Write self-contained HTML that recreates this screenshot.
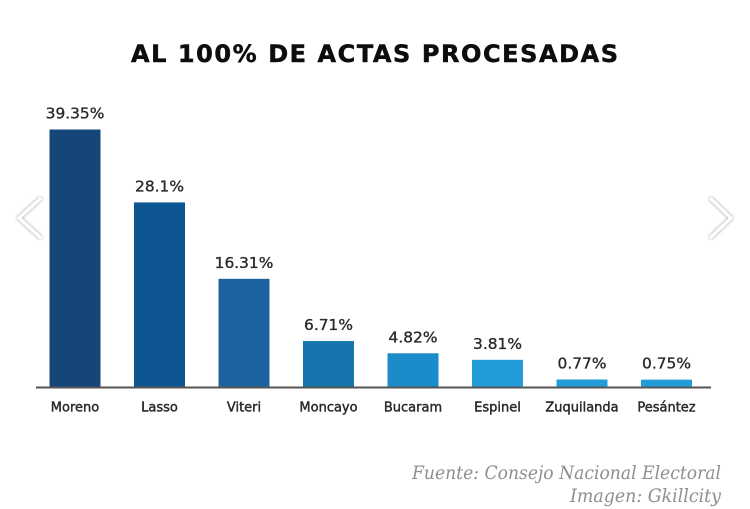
<!DOCTYPE html>
<html lang="es">
<head>
<meta charset="utf-8">
<title>Al 100% de actas procesadas</title>
<style>
html,body{margin:0;padding:0;background:#fff;width:750px;height:509px;overflow:hidden}
svg{display:block}
.title{font:bold 24px "DejaVu Sans",sans-serif;fill:#0f0f10;stroke:#0f0f10;stroke-width:.5}
.value{font:15.4px "DejaVu Sans",sans-serif;fill:#2a2a2c;text-anchor:middle;stroke:#2a2a2c;stroke-width:.35}
.cat{font:13px "DejaVu Sans",sans-serif;fill:#2b2b2d;text-anchor:middle;stroke:#2b2b2d;stroke-width:.45}
.note{font:italic 19px "DejaVu Serif","Liberation Serif",serif;fill:#8c8f93;text-anchor:end}
</style>
</head>
<body>
<svg id="chart" xmlns="http://www.w3.org/2000/svg" width="750" height="509" viewBox="0 0 750 509">
  <defs>
    <filter id="soft" x="-5%" y="-5%" width="110%" height="110%"><feGaussianBlur stdDeviation="0.35"/></filter>
    <filter id="shadow" x="-40%" y="-40%" width="180%" height="180%"><feDropShadow dx="0" dy="0" stdDeviation="1.6" flood-color="#000" flood-opacity="0.45"/></filter>
  </defs>
  <rect width="750" height="509" fill="#fff"/>
  <g id="plot" filter="url(#soft)">
    <text class="title" x="131" y="62" textLength="487" lengthAdjust="spacing">AL 100% DE ACTAS PROCESADAS</text>
    <g id="bars"></g>
    <g id="values"></g>
    <g id="cats"></g>
    <line x1="36" y1="387.5" x2="711" y2="387.5" stroke="#555557" stroke-width="2"/>
    <text class="note" x="721" y="479" textLength="309" lengthAdjust="spacingAndGlyphs">Fuente: Consejo Nacional Electoral</text>
    <text class="note" x="721" y="502" textLength="151" lengthAdjust="spacingAndGlyphs">Imagen: Gkillcity</text>
  </g>
  <polyline points="41,198 19,218 41,238" fill="none" stroke="#fff" stroke-width="3" filter="url(#shadow)"/>
  <polyline points="710,198 731,218 710,238" fill="none" stroke="#fff" stroke-width="3" filter="url(#shadow)"/>
</svg>
<script>
const categories = ["Moreno", "Lasso", "Viteri", "Moncayo", "Bucaram", "Espinel", "Zuquilanda", "Pesántez"];
const seriesValues = [39.35, 28.1, 16.31, 6.71, 4.82, 3.81, 0.77, 0.75];
const valueLabels = ["39.35%", "28.1%", "16.31%", "6.71%", "4.82%", "3.81%", "0.77%", "0.75%"];
const barColors = ["#12457a", "#0a5791", "#1a629f", "#1574ad", "#1e8bc9", "#229cd9", "#229cd9", "#229cd9"];

const NS = "http://www.w3.org/2000/svg";
const baseline = 387;
const barWidth = 51;
function xAxis(i) { return 75 + i * 84.5; }
function yAxis(v) { return baseline - (2.5 + v * 6.48); }

const barsGroup = document.getElementById("bars");
const valuesGroup = document.getElementById("values");
const catsGroup = document.getElementById("cats");

categories.forEach(function (name, i) {
  const top = yAxis(seriesValues[i]);
  const cx = xAxis(i);

  const bar = document.createElementNS(NS, "rect");
  
  
  bar.setAttribute("x", cx - barWidth / 2);
  bar.setAttribute("y", top);
  bar.setAttribute("width", barWidth);
  bar.setAttribute("height", baseline - top);
  bar.setAttribute("fill", barColors[i]);
  barsGroup.appendChild(bar);

  const value = document.createElementNS(NS, "text");
  
  
  value.setAttribute("class", "value");
  value.setAttribute("x", cx);
  value.setAttribute("y", top - 11);
  value.textContent = valueLabels[i];
  valuesGroup.appendChild(value);

  const cat = document.createElementNS(NS, "text");
  
  
  cat.setAttribute("class", "cat");
  cat.setAttribute("x", cx);
  cat.setAttribute("y", 411.5);
  cat.textContent = name;
  catsGroup.appendChild(cat);
});
</script>
</body>
</html>
